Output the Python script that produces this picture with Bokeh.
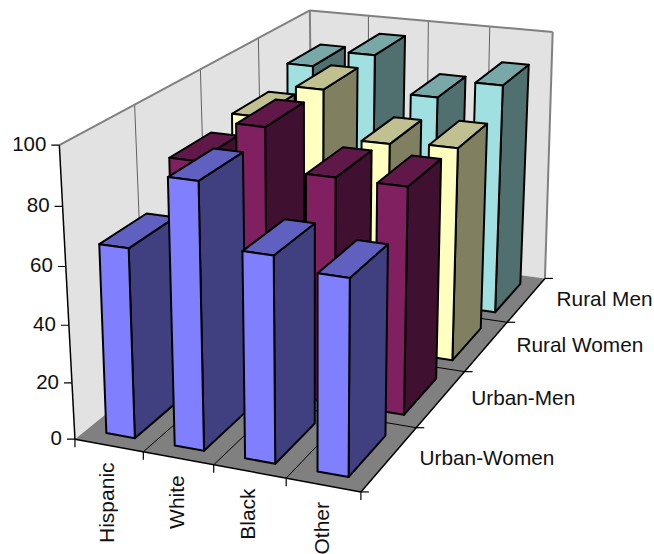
import numpy as np
from bokeh.core.properties import value
from bokeh.embed import file_html
from bokeh.models import Range1d
from bokeh.plotting import figure
from bokeh.resources import INLINE

# Survey values per row (front to back) and category (left to right)
categories = ["Hispanic", "White", "Black", "Other"]
series = ["Urban-Women", "Urban-Men", "Rural Women", "Rural Men"]
urban_women = [65.8, 91.1, 70.2, 66.4]
urban_men = [80.1, 94.7, 80.3, 80.2]
rural_women = [82.3, 94.8, 77.7, 79.0]
rural_men = [88.9, 95.5, 81.7, 88.8]
rows = [urban_women, urban_men, rural_women, rural_men]
value_ticks = [0, 20, 40, 60, 80, 100]

# Face colours per row: front, top, side
row_colours = [
    ("#8080FF", "#6060C0", "#404080"),
    ("#802060", "#601848", "#401030"),
    ("#FFFFC0", "#C0C090", "#808060"),
    ("#A0E0E0", "#78A8A8", "#507070"),
]

# Perspective camera mapping (category, row, value / 100, 1) to the page
CAMERA = np.array([
    [66.31974, 80.61782, -18.59255, 74.45636],
    [6.14047, -31.29848, -301.36450, 438.69903],
    [-0.01433, 0.06841, -0.05074, 1.0],
])
BAR_U = (0.29, 0.71)
BAR_V = (0.16, 0.81)
BAR_LEAN = 0.028  # bars stand a little straighter than the walls (px per value unit)


def proj(u, v, w):
    h = CAMERA @ np.array([u, v, w / 100.0, 1.0])
    return float(h[0] / h[2]), float(h[1] / h[2])


def poly(points):
    pts = [proj(*q) for q in points]
    return [q[0] for q in pts], [q[1] for q in pts]


def bar_poly(points):
    pts = [proj(*q) for q in points]
    return ([q[0] + BAR_LEAN * r[2] for q, r in zip(pts, points)],
            [q[1] for q in pts])


def seg(p, a, b, **kw):
    (x0, y0), (x1, y1) = proj(*a), proj(*b)
    p.line([x0, x1], [y0, y1], **kw)


FONT = value("Liberation Sans")
INK = "#111111"
GRID = "#606060"
EDGE = "#808080"
nu, nv = len(categories), len(series)

p = figure(width=654, height=554, x_range=Range1d(0, 654), y_range=Range1d(554, 0),
           output_backend="svg", toolbar_location=None, min_border=0)
p.axis.visible = False
p.grid.visible = False
p.outline_line_color = None

# Walls and floor
for corners in ([(0, 0, 0), (0, nv, 0), (0, nv, 100), (0, 0, 100)],
                [(0, nv, 0), (nu, nv, 0), (nu, nv, 100), (0, nv, 100)]):
    xs, ys = poly(corners)
    p.patch(xs, ys, fill_color="#E2E2E2", line_color=None)
xs, ys = poly([(0, 0, 0), (nu, 0, 0), (nu, nv, 0), (0, nv, 0)])
p.patch(xs, ys, fill_color="#808080", line_color=None)

# Wall and floor grid lines
for i in range(1, nu):
    seg(p, (i, nv, 0), (i, nv, 100), line_color=GRID, line_width=1)
    seg(p, (i, 0, 0), (i, nv, 0), line_color="#000000", line_width=1)
for j in range(1, nv):
    seg(p, (0, j, 0), (0, j, 100), line_color=GRID, line_width=1)
    seg(p, (0, j, 0), (nu, j, 0), line_color="#000000", line_width=1)

# Outer wall edges
seg(p, (0, 0, 100), (0, nv, 100), line_color=EDGE, line_width=2)
seg(p, (0, nv, 100), (nu, nv, 100), line_color=EDGE, line_width=2)
seg(p, (0, nv, 0), (0, nv, 100), line_color=EDGE, line_width=2)
seg(p, (nu, nv, 0), (nu, nv, 100), line_color=EDGE, line_width=2)

# Axis lines
seg(p, (0, 0, 0), (0, 0, 100), line_color="#000000", line_width=1.5)
seg(p, (0, 0, 0), (nu, 0, 0), line_color="#000000", line_width=1.5)
seg(p, (nu, 0, 0), (nu, nv, 0), line_color="#000000", line_width=1.5)

# Bars, back row first and left to right within a row
u0, u1 = BAR_U
v0, v1 = BAR_V
for j in reversed(range(nv)):
    front, top, side = row_colours[j]
    for i in range(nu):
        w = rows[j][i]
        a, b = i + u0, i + u1
        c, d = j + v0, j + v1
        faces = [
            ([(b, c, 0), (b, d, 0), (b, d, w), (b, c, w)], side),
            ([(a, c, w), (b, c, w), (b, d, w), (a, d, w)], top),
            ([(a, c, 0), (b, c, 0), (b, c, w), (a, c, w)], front),
        ]
        for corners, colour in faces:
            xs, ys = bar_poly(corners)
            p.patch(xs, ys, fill_color=colour, line_color="#000000", line_width=2,
                    line_join="round")

# Value axis ticks and labels
for t in value_ticks:
    x, y = proj(0, 0, t)
    p.line([x - 8, x], [y, y], line_color="#000000", line_width=1.2)
    p.text([x - 13], [y - 1], text=[str(t)], text_font=FONT, text_font_size="20.5px",
           text_color=INK, text_align="right", text_baseline="middle")

# Category ticks and labels
for i in range(nu + 1):
    x, y = proj(i, 0, 0)
    p.line([x, x], [y, y + 8], line_color="#000000", line_width=1.2)
for i, name in enumerate(categories):
    x, y = proj(i + 0.5, 0, 0)
    p.text([x - 2], [y + 17], text=[name], text_font=FONT, text_font_size="21px",
           text_color=INK, text_align="right", text_baseline="middle", angle=np.pi / 2)

# Row ticks and labels
for j in range(nv + 1):
    x, y = proj(nu, j, 0)
    p.line([x, x + 8], [y, y], line_color="#000000", line_width=1.2)
for j, name in enumerate(series):
    x, y = proj(nu, j + 0.5, 0)
    p.text([x + 30], [y - 1.5], text=[name], text_font=FONT, text_font_size="20.8px",
           text_color=INK, text_align="left", text_baseline="middle")

open("out.html", "w").write(file_html(p, INLINE))
